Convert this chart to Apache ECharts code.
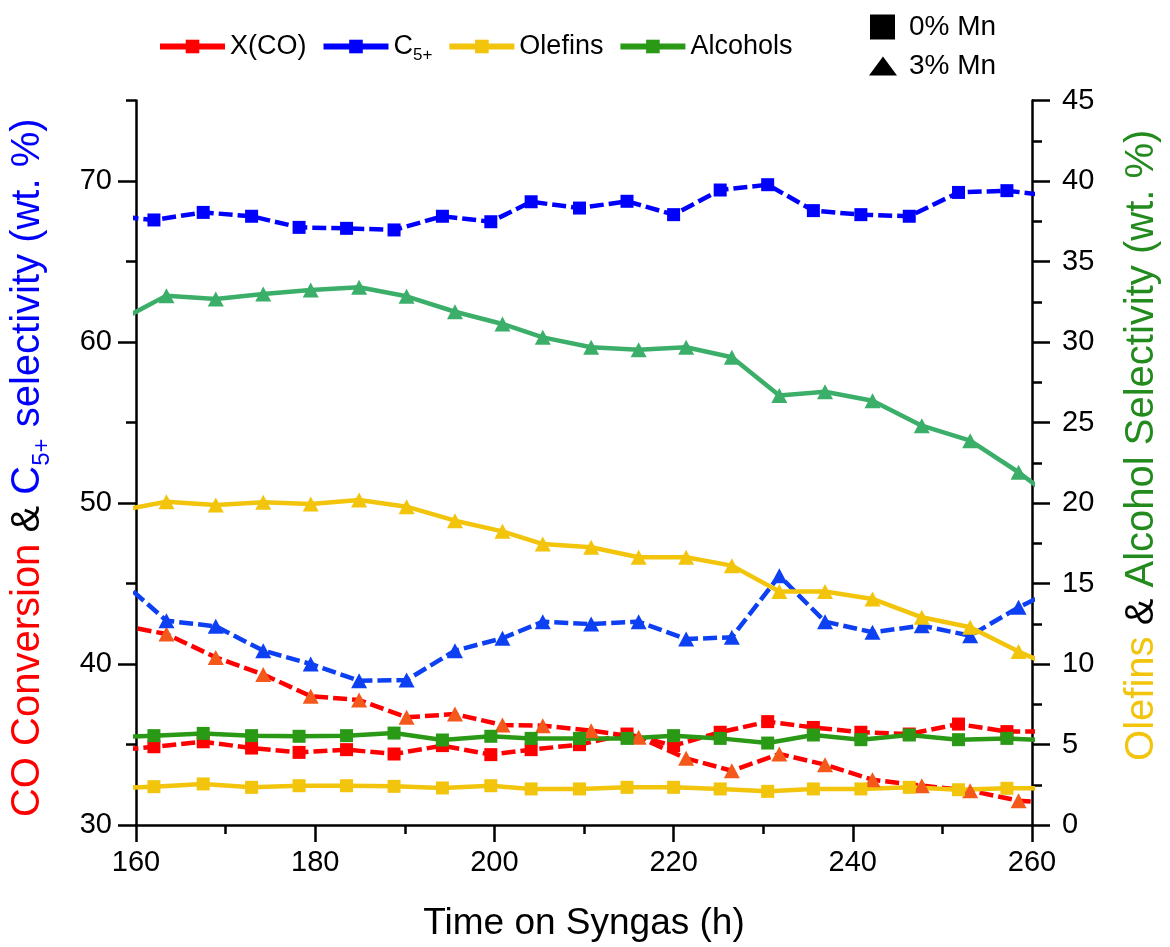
<!DOCTYPE html>
<html>
<head>
<meta charset="utf-8">
<script src="https://cdn.jsdelivr.net/npm/echarts@6/dist/echarts.min.js"></script>
<style>
html,body{margin:0;padding:0;background:#fff;}
#chart{width:1170px;height:947px;}
</style>
</head>
<body>
<div id="chart"></div>
<script>
// Sampling times (h): 0% Mn runs (squares) and 3% Mn runs (triangles); first/last points lie just outside the axis range
const hours0 = [156.6, 162.0, 167.5, 172.9, 178.2, 183.5, 188.8, 194.2, 199.6, 204.1, 209.5, 214.8, 220.0, 225.2, 230.5, 235.6, 240.9, 246.3, 251.8, 257.2, 262.6];
const hours3 = [158.1, 163.4, 168.9, 174.2, 179.5, 184.9, 190.2, 195.6, 200.9, 205.4, 210.8, 216.1, 221.4, 226.5, 231.8, 236.9, 242.2, 247.7, 253.1, 258.5, 263.9];

// Left axis (wt. %): CO conversion and C5+ selectivity
const xco0 = [34.59, 34.86, 35.17, 34.78, 34.51, 34.68, 34.41, 34.93, 34.37, 34.68, 34.99, 35.65, 34.93, 35.76, 36.42, 36.06, 35.76, 35.65, 36.27, 35.80, 35.80];
const xco3 = [42.42, 41.86, 40.41, 39.35, 38.00, 37.76, 36.69, 36.89, 36.21, 36.17, 35.86, 35.45, 34.14, 33.37, 34.41, 33.75, 32.81, 32.44, 32.13, 31.51, 31.30];
const c5p0 = [67.88, 67.58, 68.05, 67.81, 67.12, 67.06, 66.96, 67.81, 67.47, 68.71, 68.32, 68.74, 67.91, 69.44, 69.77, 68.16, 67.91, 67.81, 69.29, 69.40, 69.05];
const c5p3 = [45.28, 42.69, 42.34, 40.83, 40.00, 38.96, 39.00, 40.83, 41.60, 42.63, 42.48, 42.63, 41.55, 41.66, 45.48, 42.63, 41.97, 42.38, 41.76, 43.52, 45.00];

// Right axis (wt. %): olefins and alcohol selectivity
const ole0 = [2.27, 2.38, 2.55, 2.34, 2.44, 2.44, 2.40, 2.30, 2.44, 2.24, 2.24, 2.34, 2.34, 2.24, 2.09, 2.24, 2.24, 2.34, 2.19, 2.28, 2.28];
const ole3 = [19.52, 20.08, 19.88, 20.04, 19.94, 20.19, 19.77, 18.90, 18.24, 17.45, 17.25, 16.63, 16.63, 16.11, 14.50, 14.50, 14.04, 12.90, 12.28, 10.77, 9.47];
const alc0 = [5.44, 5.55, 5.69, 5.55, 5.51, 5.55, 5.71, 5.28, 5.51, 5.38, 5.38, 5.38, 5.55, 5.38, 5.09, 5.59, 5.30, 5.59, 5.30, 5.38, 5.23];
const alc3 = [31.32, 32.88, 32.67, 32.98, 33.23, 33.40, 32.84, 31.88, 31.12, 30.29, 29.67, 29.52, 29.67, 29.05, 26.67, 26.91, 26.35, 24.80, 23.87, 21.91, 19.64];

// Tick values
const leftMajor = [30, 40, 50, 60, 70];
const leftMinor = [35, 45, 55, 65, 75];

const FONT = 'Liberation Sans, Arial, Helvetica, sans-serif';
const RED = '#FF0000', RED_T = '#F4581A';
const BLUE = '#0000FF', BLUE_T = '#0D40F2';
const YEL = '#F2C40C';
const GRN = '#2A9A16', GRN_T = '#3BAF6A', GRN_TXT = '#238B1E';

function pairs(h, v) { return h.map((x, i) => [x, v[i]]); }

const dashed = [14, 5];
function mk(name, h, v, yIdx, color, lineColor, symbol, size, dash) {
  return {
    name: name, type: 'line', yAxisIndex: yIdx, data: pairs(h, v),
    symbol: symbol, symbolSize: size, clip: true,
    itemStyle: { color: color },
    lineStyle: { color: lineColor, width: 4.5, type: dash ? dashed : 'solid' },
    emphasis: { disabled: true }
  };
}

const series = [
  mk('X(CO)', hours0, xco0, 0, RED, RED, 'rect', 13, true),
  mk('X(CO) 3% Mn', hours3, xco3, 0, RED_T, RED, 'triangle', [16, 15], true),
  mk('C5+', hours0, c5p0, 0, BLUE, BLUE, 'rect', 13, true),
  mk('C5+ 3% Mn', hours3, c5p3, 0, BLUE_T, BLUE_T, 'triangle', [16, 15], true),
  mk('Alcohols', hours0, alc0, 1, GRN, GRN, 'rect', 13, false),
  mk('Alcohols 3% Mn', hours3, alc3, 1, GRN_T, GRN_T, 'triangle', [16, 15], false),
  mk('Olefins', hours0, ole0, 1, YEL, YEL, 'rect', 13, false),
  mk('Olefins 3% Mn', hours3, ole3, 1, YEL, YEL, 'triangle', [16, 15], false),
  { name: '0% Mn', type: 'line', data: [], itemStyle: { color: '#000' }, symbol: 'rect' },
  { name: '3% Mn', type: 'line', data: [], itemStyle: { color: '#000' }, symbol: 'triangle' }
];

const axisLineStyle = { lineStyle: { color: '#000', width: 2.5 } };
const tickStyle = { lineStyle: { color: '#000', width: 2.5 } };
const labelStyle = { color: '#000', fontSize: 29, fontFamily: FONT };

const option = {
  animation: false,
  backgroundColor: '#fff',
  textStyle: { fontFamily: FONT },
  grid: { left: 136, right: 135, top: 100.5, bottom: 120.5, containLabel: false },
  legend: [
    {
      data: ['X(CO)', 'C5+', 'Olefins', 'Alcohols'],
      left: 157, top: 33, orient: 'horizontal', padding: 0,
      itemWidth: 65, itemHeight: 17, itemGap: 14, selectedMode: false,
      lineStyle: { type: 'solid', width: 6 },
      formatter: function (n) { return n === 'C5+' ? '{m|C}{s|5+}' : '{m|' + n + '}'; },
      textStyle: {
        fontFamily: FONT, color: '#000',
        rich: {
          m: { fontSize: 27, lineHeight: 34, fontFamily: FONT, color: '#000' },
          s: { fontSize: 17, lineHeight: 17, verticalAlign: 'bottom', fontFamily: FONT, color: '#000' }
        }
      }
    },
    {
      data: [{ name: '0% Mn', icon: 'rect' }],
      left: 870, top: 13, padding: 0, itemWidth: 25, itemHeight: 25, selectedMode: false,
      textStyle: { fontSize: 28, lineHeight: 25, fontFamily: FONT, color: '#000', padding: [0, 0, 0, 9] }
    },
    {
      data: [{ name: '3% Mn', icon: 'triangle' }],
      left: 869, top: 52, padding: 0, itemWidth: 28, itemHeight: 19, selectedMode: false,
      textStyle: { fontSize: 28, lineHeight: 19, fontFamily: FONT, color: '#000', padding: [0, 0, 0, 7] }
    }
  ],
  xAxis: {
    type: 'value', min: 160, max: 260, interval: 20,
    name: 'Time on Syngas (h)', nameLocation: 'middle', nameGap: 80,
    nameTextStyle: { fontSize: 37, fontFamily: FONT, color: '#000' },
    axisLine: axisLineStyle,
    axisTick: Object.assign({ show: true, inside: false, length: 17 }, tickStyle),
    minorTick: { show: true, splitNumber: 2, length: 9, lineStyle: { color: '#000', width: 2.5 } },
    axisLabel: Object.assign({ margin: 23 }, labelStyle),
    splitLine: { show: false }, minorSplitLine: { show: false }
  },
  yAxis: [
    {
      type: 'value', position: 'left', min: 30, max: 75, interval: 5,
      name: '{r|CO Conversion}{k| & }{b|C}{s|5+}{b| selectivity (wt. %)}',
      nameLocation: 'middle', nameRotate: 90, nameGap: 82,
      nameTextStyle: {
        fontSize: 40, fontFamily: FONT, padding: [0, 10, 0, 0],
        rich: {
          r: { color: RED, fontSize: 40, lineHeight: 52, fontFamily: FONT },
          k: { color: '#000', fontSize: 40, lineHeight: 52, fontFamily: FONT },
          b: { color: BLUE, fontSize: 40, lineHeight: 52, fontFamily: FONT },
          s: { color: BLUE, fontSize: 24, lineHeight: 24, verticalAlign: 'bottom', fontFamily: FONT }
        }
      },
      axisLine: Object.assign({ show: true, onZero: false }, axisLineStyle),
      axisTick: Object.assign({ show: true, inside: false, length: 18, customValues: leftMajor }, tickStyle),
      axisLabel: Object.assign({ margin: 24, customValues: leftMajor }, labelStyle),
      splitLine: { show: false }
    },
    {
      type: 'value', position: 'right', min: 0, max: 45, interval: 5,
      name: '{o|Olefins}{k| & }{g|Alcohol Selectivity (wt. %)}',
      nameLocation: 'middle', nameRotate: 90, nameGap: 84,
      nameTextStyle: {
        fontSize: 40, fontFamily: FONT, padding: [0, 0, 0, 35],
        rich: {
          o: { color: YEL, fontSize: 40, lineHeight: 52, fontFamily: FONT },
          k: { color: '#000', fontSize: 40, lineHeight: 52, fontFamily: FONT },
          g: { color: GRN_TXT, fontSize: 40, lineHeight: 52, fontFamily: FONT }
        }
      },
      axisLine: Object.assign({ show: true, onZero: false }, axisLineStyle),
      axisTick: Object.assign({ show: true, inside: false, length: 18 }, tickStyle),
      minorTick: { show: true, splitNumber: 2, length: 10, lineStyle: { color: '#000', width: 2.5 } },
      axisLabel: Object.assign({ margin: 30 }, labelStyle),
      splitLine: { show: false }, minorSplitLine: { show: false }
    },
    {
      type: 'value', position: 'left', min: 30, max: 75, interval: 5,
      axisLine: { show: false },
      axisTick: Object.assign({ show: true, inside: false, length: 10, customValues: leftMinor }, tickStyle),
      axisLabel: { show: false },
      splitLine: { show: false }
    }
  ],
  series: series
};

const chart = echarts.init(document.getElementById('chart'), null, { renderer: 'canvas' });
chart.setOption(option);
</script>
</body>
</html>
